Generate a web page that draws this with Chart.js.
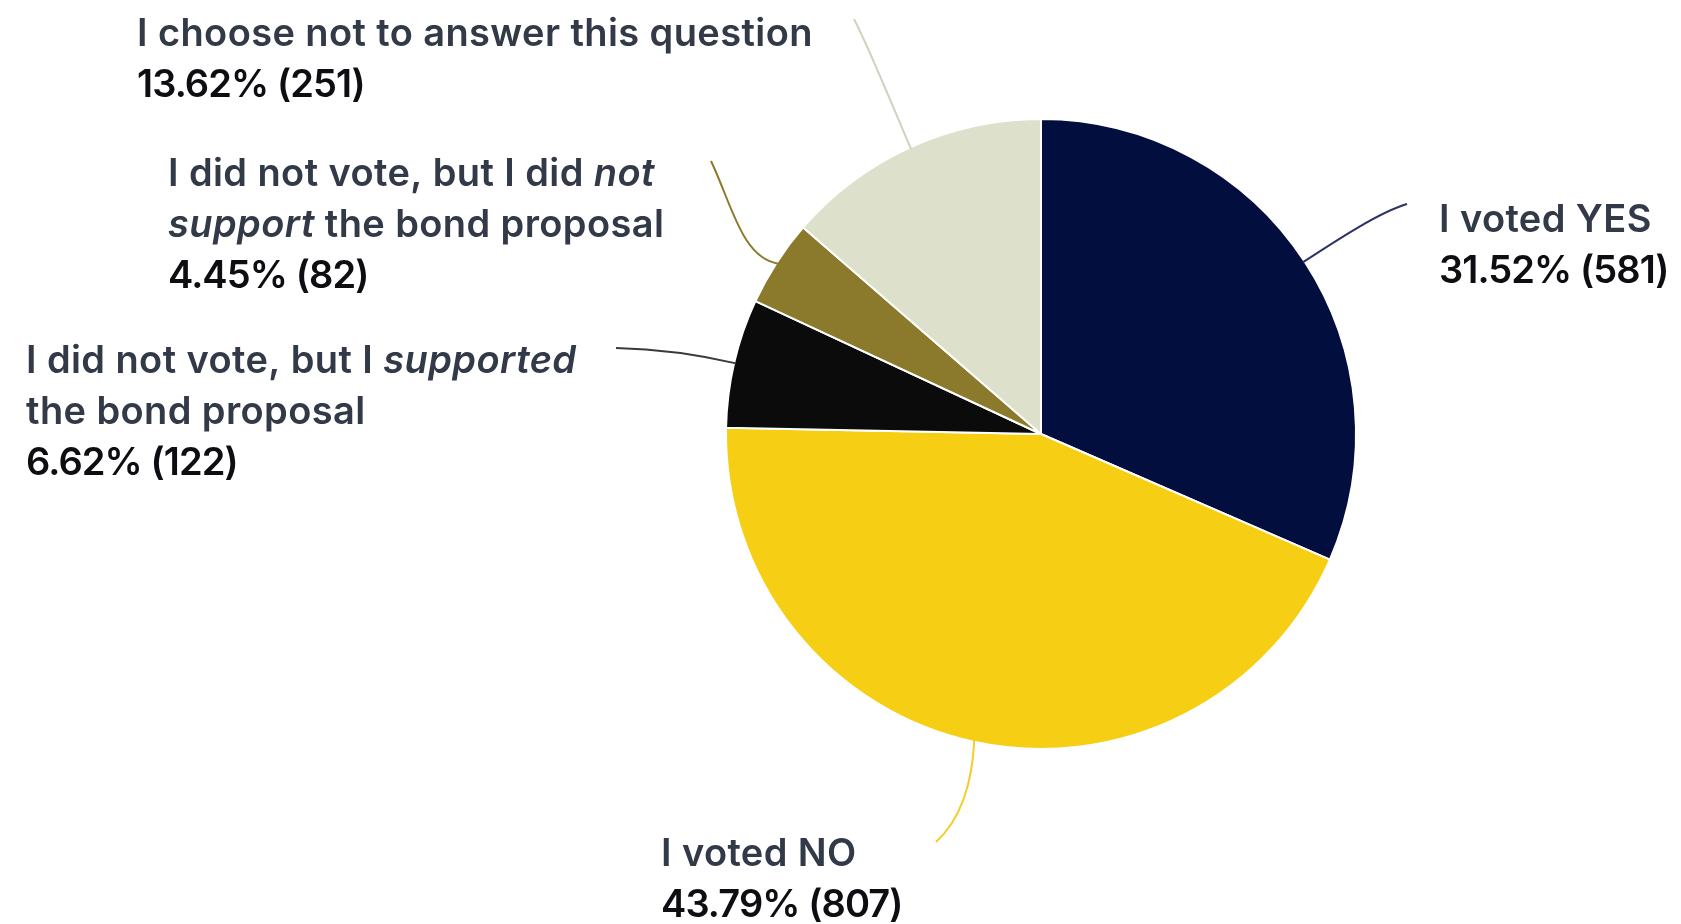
<!DOCTYPE html>
<html>
<head>
<meta charset="utf-8">
<script src="https://cdn.jsdelivr.net/npm/chart.js@4.4.1/dist/chart.umd.min.js"></script>
<style>
  html, body { margin: 0; padding: 0; background: #fff; }
  #wrap { width: 1681px; height: 924px; }
</style>
</head>
<body>
<div id="wrap"><canvas id="pie" width="1681" height="924"></canvas></div>
<script>
var answers = [
  "I voted YES",
  "I voted NO",
  "I did not vote, but I supported the bond proposal",
  "I did not vote, but I did not support the bond proposal",
  "I choose not to answer this question"
];
var counts = [581, 807, 122, 82, 251];
var percents = ["31.52%", "43.79%", "6.62%", "4.45%", "13.62%"];

// answer text split in lines, each line a list of [text, italic] runs
var answerLines = [
  [[["I voted YES", false]]],
  [[["I voted NO", false]]],
  [[["I did not vote, but I ", false], ["supported", true]],
   [["the bond proposal", false]]],
  [[["I did not vote, but I did ", false], ["not", true]],
   [["support", true], [" the bond proposal", false]]],
  [[["I choose not to answer this question", false]]]
];

var sliceColors = ["#010e3e", "#f6cf14", "#0b0b0b", "#8b7a2b", "#dde0cb"];
var leaderColors = ["#2b3263", "#f2cd2a", "#3a3a3a", "#8b7a2b", "#cfd2bc"];

// where each label block sits, and how its leader line bends
var layout = [
  { x: 1439, y: 232, end: [1407, 204], c1: [1340, 238], c2: [1380, 212] },
  { x: 661, y: 866, end: [936, 842], c1: [972, 790], c2: [958, 822] },
  { x: 26, y: 373, end: [616, 348], c1: [700, 355], c2: [660, 349] },
  { x: 168, y: 186, end: [711, 161], c1: [742, 258], c2: [732, 205] },
  { x: 137, y: 46, end: [854, 19], c1: [892, 105], c2: [870, 50] }
];
var lineHeight = 51;
var fontFamily = "Inter, 'Noto Sans', sans-serif";

var calloutPlugin = {
  id: "callouts",
  afterDraw: function (chart) {
    var ctx = chart.ctx;
    var arcs = chart.getDatasetMeta(0).data;
    ctx.save();
    for (var i = 0; i < arcs.length; i++) {
      var a = arcs[i];
      var mid = (a.startAngle + a.endAngle) / 2;
      var r = a.outerRadius - 2;
      var sx = a.x + Math.cos(mid) * r;
      var sy = a.y + Math.sin(mid) * r;
      var L = layout[i];

      ctx.beginPath();
      ctx.moveTo(sx, sy);
      ctx.bezierCurveTo(L.c1[0], L.c1[1], L.c2[0], L.c2[1], L.end[0], L.end[1]);
      ctx.strokeStyle = leaderColors[i];
      ctx.lineWidth = 2;
      ctx.stroke();

      ctx.textBaseline = "alphabetic";
      ctx.textAlign = "left";
      ctx.letterSpacing = "0.4px";
      var y = L.y;
      var lines = answerLines[i];
      for (var j = 0; j < lines.length; j++) {
        var x = L.x;
        for (var k = 0; k < lines[j].length; k++) {
          var run = lines[j][k];
          ctx.font = (run[1] ? "italic " : "") + "600 38px " + fontFamily;
          ctx.fillStyle = "#323947";
          ctx.fillText(run[0], x, y);
          x += ctx.measureText(run[0]).width;
        }
        y += lineHeight;
      }
      ctx.font = "600 38px " + fontFamily;
      ctx.letterSpacing = "-0.9px";
      ctx.fillStyle = "#0e0e12";
      ctx.fillText(percents[i] + " (" + counts[i] + ")", L.x, y);
    }
    ctx.restore();
  }
};

new Chart(document.getElementById("pie").getContext("2d"), {
  type: "pie",
  data: {
    labels: answers,
    datasets: [{
      data: counts,
      backgroundColor: sliceColors,
      borderColor: "#ffffff",
      borderWidth: 2
    }]
  },
  options: {
    responsive: false,
    animation: false,
    layout: { padding: { left: 725, right: 324, top: 118, bottom: 174 } },
    plugins: {
      legend: { display: false },
      tooltip: { enabled: false }
    }
  },
  plugins: [calloutPlugin]
});
</script>
</body>
</html>
